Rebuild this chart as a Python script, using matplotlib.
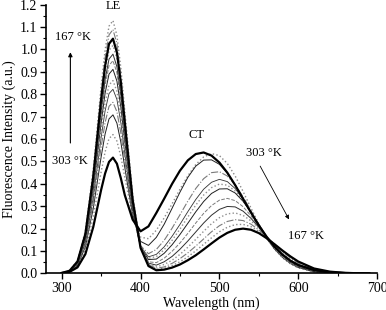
import matplotlib
matplotlib.use("Agg")
import matplotlib.pyplot as plt
from matplotlib.ticker import MultipleLocator

plt.rcParams['font.family'] = ['Liberation Serif', 'DejaVu Serif']

# --------------------------
# Data (303 K -> 167 K)
# --------------------------
wavelength = [300, 310, 320, 330, 340, 350, 355, 360, 365, 370, 375, 380, 390,
              400, 410, 420, 430, 440, 450, 460, 470, 480, 490, 500, 510, 520,
              530, 540, 550, 560, 570, 580, 590, 600, 620, 640, 660, 690]

s01 = [.002, .007, .027, .086, .207, .373, .446, .498, .517, .490, .425, .350, .240,
       .188, .210, .270, .334, .400, .459, .505, .533, .540, .526, .495, .450, .394,
       .333, .272, .214, .163, .119, .084, .057, .038, .015, .005, .002, .000]
s02 = [.002, .008, .032, .104, .252, .453, .542, .602, .620, .591, .522, .429, .253,
       .162, .155, .193, .248, .311, .376, .436, .486, .520, .535, .526, .491, .435,
       .366, .292, .221, .158, .108, .070, .043, .025, .007, .002, .000, .000]
s03 = [.001, .008, .035, .119, .290, .520, .622, .690, .708, .671, .586, .473, .259,
       .143, .125, .161, .220, .291, .363, .429, .479, .506, .507, .487, .448, .395,
       .334, .272, .212, .158, .113, .078, .051, .032, .011, .003, .001, .000]
s04 = [.001, .008, .038, .128, .313, .564, .673, .746, .764, .722, .627, .503, .262,
       .124, .088, .107, .148, .202, .262, .323, .379, .423, .450, .454, .435, .396,
       .342, .280, .217, .160, .112, .074, .047, .028, .009, .002, .000, .000]
s05 = [.002, .009, .041, .138, .338, .607, .725, .803, .822, .777, .673, .537, .273,
       .120, .074, .085, .119, .166, .219, .276, .330, .376, .407, .420, .410, .379,
       .330, .272, .212, .155, .108, .071, .044, .026, .007, .002, .000, .000]
s06 = [.002, .010, .043, .145, .354, .637, .761, .841, .861, .813, .704, .561, .283,
       .119, .068, .075, .106, .148, .198, .252, .305, .350, .383, .399, .394, .368,
       .325, .271, .213, .158, .111, .074, .046, .027, .008, .002, .000, .000]
s07 = [.002, .010, .046, .153, .375, .673, .804, .890, .911, .859, .743, .591, .295,
       .119, .062, .064, .090, .128, .174, .224, .275, .321, .357, .377, .378, .359,
       .322, .273, .219, .165, .118, .080, .051, .030, .009, .002, .000, .000]
s08 = [.002, .011, .048, .160, .391, .703, .839, .928, .950, .896, .774, .615, .304,
       .117, .052, .048, .068, .099, .136, .179, .225, .268, .303, .327, .335, .325,
       .298, .257, .209, .161, .116, .079, .051, .031, .010, .002, .000, .000]
s09 = [.002, .011, .049, .165, .403, .725, .865, .957, .979, .923, .797, .632, .310,
       .116, .046, .037, .052, .076, .108, .145, .185, .225, .260, .286, .299, .297,
       .278, .246, .205, .161, .119, .083, .055, .034, .011, .003, .001, .000]
s10 = [.002, .011, .051, .171, .419, .754, .900, .996, 1.018, .960, .828, .657, .321,
       .116, .041, .029, .040, .059, .085, .117, .152, .188, .222, .249, .266, .270,
       .259, .235, .202, .163, .125, .090, .061, .040, .014, .004, .001, .000]
s11 = [.002, .012, .055, .183, .448, .806, .962, 1.065, 1.089, 1.026, .885, .702, .341,
       .121, .039, .023, .029, .045, .066, .092, .122, .154, .186, .213, .232, .240,
       .236, .220, .194, .163, .129, .097, .069, .046, .018, .006, .001, .000]
s12 = [.002, .013, .057, .190, .464, .835, .997, 1.104, 1.129, 1.063, .917, .726, .352,
       .124, .037, .018, .023, .035, .052, .074, .101, .130, .159, .186, .206, .218,
       .219, .209, .188, .161, .130, .100, .073, .050, .020, .007, .002, .000]
s13 = [.002, .012, .053, .176, .432, .776, .926, 1.025, 1.048, .987, .852, .675, .327,
       .114, .033, .014, .017, .026, .040, .059, .081, .107, .134, .160, .181, .195,
       .200, .195, .180, .157, .130, .102, .076, .053, .022, .008, .002, .000]

# (series, colour, linestyle, linewidth) - thin ones first, bold 303/167 K on top
styles = [
    (s02, '#8a8a8a', ':', 1.0),
    (s03, '#202020', '-', 0.7),
    (s04, '#7a7a7a', '-.', 0.8),
    (s05, '#303030', '-', 0.6),
    (s06, '#909090', ':', 1.0),
    (s07, '#202020', '-', 0.7),
    (s08, '#7a7a7a', '--', 0.7),
    (s09, '#303030', '-', 0.7),
    (s10, '#909090', ':', 1.0),
    (s11, '#7a7a7a', '-.', 0.8),
    (s12, '#8a8a8a', ':', 1.0),
    (s01, 'black', '-', 1.6),
    (s13, 'black', '-', 1.6),
]

fig = plt.figure(figsize=(3.86, 3.10), dpi=100)
ax = fig.add_axes([0.119, 0.118, 0.858, 0.867])

for ys, col, ls, lw in styles:
    ax.plot(wavelength, ys, color=col, linestyle=ls, linewidth=lw)

ax.set_xlim(280, 700)
ax.set_ylim(0, 1.2)
ax.xaxis.set_major_locator(MultipleLocator(100))
ax.xaxis.set_minor_locator(MultipleLocator(50))
ax.yaxis.set_major_locator(MultipleLocator(0.1))
ax.yaxis.set_minor_locator(MultipleLocator(0.05))
ax.yaxis.set_major_formatter(plt.FuncFormatter(lambda v, p: f"{v:.1f}"))
ax.spines['top'].set_visible(False)
ax.spines['right'].set_visible(False)
ax.spines['left'].set_linewidth(1.2)
ax.spines['bottom'].set_linewidth(1.2)
ax.tick_params(which='major', direction='out', length=4, width=1, labelsize=10)
ax.tick_params(axis='x', which='major', pad=2)
ax.tick_params(axis='y', which='major', pad=2)
ax.tick_params(which='minor', direction='out', length=2, width=0.8)

ax.set_xlabel("Wavelength (nm)", fontsize=10, labelpad=1)
ax.set_ylabel("Fluorescence Intensity (a.u.)", fontsize=10, labelpad=3)

# --------------------------
# Annotations
# --------------------------
ax.text(365, 1.195, "LE", fontsize=9, ha='center', va='center', clip_on=False)
ax.text(314, 1.055, "167 °K", fontsize=9, ha='center', va='center')
ax.text(311, 0.503, "303 °K", fontsize=9, ha='center', va='center')
ax.annotate("", xy=(311, 1.0), xytext=(311, 0.57),
            arrowprops=dict(arrowstyle='-|>', color='black', lw=0.8,
                            mutation_scale=6))
ax.text(471, 0.618, "CT", fontsize=9, ha='center', va='center')
ax.text(556, 0.536, "303 °K", fontsize=9, ha='center', va='center')
ax.annotate("", xy=(590, 0.23), xytext=(550, 0.49),
            arrowprops=dict(arrowstyle='-|>', color='black', lw=0.6,
                            mutation_scale=6))
ax.text(610, 0.167, "167 °K", fontsize=9, ha='center', va='center')

plt.savefig("out.png", dpi=100)
